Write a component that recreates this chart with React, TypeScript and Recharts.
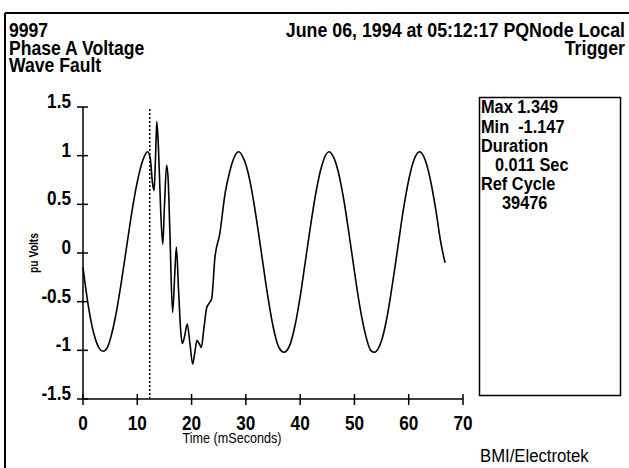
import React from 'react';
import { LineChart, Line, XAxis, YAxis, ReferenceLine } from 'recharts';

// Time in milliseconds (x) and per-unit voltage (y)
const timeMs = [
  0, 1, 2, 3, 3.7, 4.5, 5, 6, 7, 8, 9, 10, 11, 11.9,
  12.4, 12.8, 13.1, 13.4, 13.6, 13.9, 14.3, 14.7, 15.0, 15.4, 15.7, 16.0, 16.5, 16.9,
  17.2, 17.6, 18.0, 18.3, 18.7, 19.2, 19.7, 20.2, 20.6, 21.0, 21.4, 21.8, 22.3, 22.8,
  23.2, 23.7, 24.3, 25.2, 26.2, 27, 28, 28.7, 29.5, 30, 31, 32, 33, 34, 35, 36, 37,
  38, 39, 40, 41, 42, 43, 44, 45.3, 46, 47, 48, 49, 50, 51, 52, 53, 53.7, 54.5, 55,
  56, 57, 58, 59, 60, 61, 62, 63, 64, 65, 66, 66.7,
];
const puVolts = [
  -0.15, -0.55, -0.83, -0.98, -1.01, -0.97, -0.89, -0.65, -0.32, 0.05, 0.42, 0.73, 0.95, 1.04,
  0.97, 0.72, 0.64, 1.05, 1.35, 1.08, 0.45, 0.09, 0.48, 0.9, 0.74, 0.22, -0.61, -0.22,
  0.06, -0.38, -0.8, -0.93, -0.86, -0.73, -0.93, -1.14, -1.02, -0.9, -0.93, -0.97, -0.76, -0.56,
  -0.52, -0.47, -0.05, 0.2, 0.62, 0.83, 1.0, 1.04, 0.98, 0.91, 0.67, 0.33, -0.05, -0.43, -0.75, -0.96, -1.02,
  -0.96, -0.76, -0.45, -0.07, 0.31, 0.65, 0.9, 1.04, 1.0, 0.84, 0.56, 0.2, -0.19, -0.55, -0.83, -1.0, -1.02, -0.97, -0.9,
  -0.66, -0.32, 0.06, 0.44, 0.75, 0.96, 1.04, 0.96, 0.75, 0.44, 0.08, -0.1,
];

const xTicks = [0, 10, 20, 30, 40, 50, 60, 70];
const yTicks = [-1.5, -1, -0.5, 0, 0.5, 1, 1.5];
const triggerMs = 12.3;

const headerLeft = ['9997', 'Phase A Voltage', 'Wave Fault'];
const headerRight = ['June 06, 1994 at 05:12:17 PQNode Local', 'Trigger'];
const infoLines = ['Max 1.349', 'Min  -1.147', 'Duration', '0.011 Sec', 'Ref Cycle', '39476'];
const xTitle = 'Time (mSeconds)';
const yTitle = 'pu Volts';
const footer = 'BMI/Electrotek';

const data = timeMs.map((t, i) => ({ t, v: puVolts[i] }));

const FONT = "'Liberation Sans', Arial, sans-serif";

type NTextProps = {
  x: number;
  y: number;
  size?: number;
  bold?: boolean;
  squeeze?: number;
  anchor?: 'start' | 'middle' | 'end';
  children: React.ReactNode;
};

// Condensed text (Arial Narrow look) via a horizontal squeeze
const NText = ({ x, y, size = 20, bold = true, squeeze = 0.86, anchor = 'start', children }: NTextProps) => (
  <text
    x={0}
    y={0}
    transform={`translate(${x} ${y}) scale(${squeeze} 1)`}
    fontFamily={FONT}
    fontWeight={bold ? 'bold' : 'normal'}
    fontSize={size}
    textAnchor={anchor}
    fill="#000"
    style={{ whiteSpace: 'pre' }}
  >
    {children}
  </text>
);

const XTick = (props: any) => {
  const { x, y, payload } = props;
  const axisY = y - 17;
  return (
    <g>
      <line x1={x} x2={x} y1={axisY - 5} y2={axisY + 6} stroke="#000" strokeWidth={1.5} />
      <NText x={x} y={axisY + 31} anchor="middle">{payload.value}</NText>
    </g>
  );
};

const YTick = (props: any) => {
  const { x, y, payload } = props;
  const axisX = x + 12;
  return (
    <g>
      <line x1={axisX - 6} x2={axisX + 5} y1={y} y2={y} stroke="#000" strokeWidth={1.5} />
      <NText x={axisX - 12} y={y + 1} anchor="end">{payload.value}</NText>
    </g>
  );
};

export default function App() {
  const infoY = [113, 133, 152, 171, 190, 209];
  const infoX = [481, 481, 481, 495, 481, 502];
  return (
    <div style={{ position: 'absolute', left: 0, top: 0, width: 629, height: 468, background: '#fff' }}>
      <LineChart width={629} height={468} data={data} margin={{ top: 107, right: 166, bottom: 39, left: 33 }}>
        <XAxis
          dataKey="t"
          type="number"
          domain={[0, 70]}
          ticks={xTicks}
          height={30}
          tickSize={5}
          tickMargin={12}
          tickLine={false}
          axisLine={{ stroke: '#000', strokeWidth: 1.5 }}
          tick={<XTick />}
          interval={0}
        />
        <YAxis
          type="number"
          domain={[-1.5, 1.5]}
          ticks={yTicks}
          width={50}
          tickSize={5}
          tickMargin={7}
          tickLine={false}
          axisLine={{ stroke: '#000', strokeWidth: 1.5 }}
          tick={<YTick />}
          interval={0}
        />
        <ReferenceLine x={triggerMs} stroke="#000" strokeWidth={1.5} strokeDasharray="2 2" />
        <Line
          type="monotone"
          dataKey="v"
          stroke="#000"
          strokeWidth={1.6}
          dot={false}
          isAnimationActive={false}
        />
      </LineChart>
      <svg
        width={629}
        height={468}
        style={{ position: 'absolute', left: 0, top: 0, pointerEvents: 'none' }}
      >
        <line x1={5} y1={13} x2={629} y2={13} stroke="#000" strokeWidth={2} />
        <line x1={5} y1={13} x2={5} y2={468} stroke="#000" strokeWidth={2} />
        <rect x={479.5} y={97.5} width={141} height={298} fill="none" stroke="#000" strokeWidth={1.5} />
        {headerLeft.map((s, i) => (
          <NText key={s} x={9} y={37 + i * 17.5} size={20} squeeze={0.88}>{s}</NText>
        ))}
        {headerRight.map((s, i) => (
          <NText key={s} x={625} y={37 + i * 17.5} size={20} squeeze={0.89} anchor="end">{s}</NText>
        ))}
        {infoLines.map((s, i) => (
          <NText key={i} x={infoX[i]} y={infoY[i]} size={19}>{s}</NText>
        ))}
        <g transform="translate(38 253) rotate(-90)">
          <NText x={0} y={0} size={12} anchor="middle">{yTitle}</NText>
        </g>
        <NText x={232} y={443} size={15} bold={false} squeeze={0.84} anchor="middle">{xTitle}</NText>
        <NText x={480} y={462} size={19} bold={false} squeeze={0.88}>{footer}</NText>
      </svg>
    </div>
  );
}
